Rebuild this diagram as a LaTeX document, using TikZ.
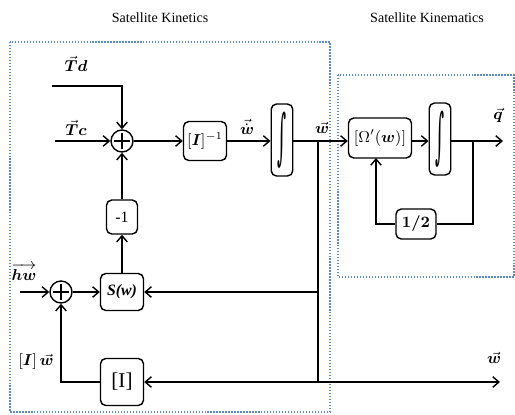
\documentclass[tikz,border=0pt]{standalone}
\usepackage{amsmath}
\usepackage{bm}
\usepackage{graphicx}
\usepackage{fontspec}
\setmainfont{Liberation Serif}
\newfontfamily\intfont{DejaVu Serif}
\usetikzlibrary{
	arrows.meta,
	calc,
	positioning
}
\definecolor{FrameBlue}{RGB}{90,140,200}

\begin{document}
\begin{tikzpicture}[x=0.02cm, y=-0.02cm, line width=0.8pt,
		>={Straight Barb[length=3.5pt,width=6pt]},
		blk/.style={draw, rounded corners=3pt, inner sep=1pt, font=\small},
		integ/.style={blk, minimum width=0.43cm, minimum height=1.44cm, inner sep=0pt},
		sumnode/.style={draw, circle, minimum size=0.44cm, inner sep=0pt,
			path picture={
				\draw ($(path picture bounding box.center)+(-0.16cm,0)$) -- ($(path picture bounding box.center)+(0.16cm,0)$);
				\draw ($(path picture bounding box.center)+(0,-0.16cm)$) -- ($(path picture bounding box.center)+(0,0.16cm)$);
			}},
		frame/.style={draw=FrameBlue, densely dotted, line width=0.7pt},
		lbl/.style={font=\small}]
		\useasboundingbox (0,0) rectangle (515,414);
		
		% frames
		\draw[frame] (10,42) rectangle (330,412);
		\draw[frame] (338,75) rectangle (514,277);
		\node[font=\fontsize{8}{9}\selectfont] at (160,18) {Satellite Kinetics};
		\node[font=\fontsize{8}{9}\selectfont] at (427,18) {Satellite Kinematics};
		
		% kinetics
		\node[sumnode] (sumA) at (122,141) {};
		\node[blk, minimum width=0.86cm, minimum height=0.78cm] (inv) at (205,141) {$[\bm{I}]^{-1}$};
		\node[integ] (intA) at (282,140) {\scalebox{1.1}[3.8]{\intfont ∫}};
		\node[blk, minimum width=0.62cm, minimum height=0.68cm] (neg) at (122,217) {-1};
		\node[blk, minimum width=0.86cm, minimum height=0.74cm] (sw) at (122,292) {\textbf{\textit{S(w)}}};
		\node[sumnode] (sumB) at (61,292) {};
		\node[blk, minimum width=0.86cm, minimum height=0.94cm, font=\large] (iblk) at (122,382) {[I]};
		
		% kinematics
		\node[blk, minimum width=1.26cm, minimum height=0.8cm] (omega) at (380,138) {$[\Omega'(\bm{w})]$};
		\node[integ] (intB) at (440,139) {\scalebox{1.1}[3.8]{\intfont ∫}};
		\node[blk, minimum width=0.8cm, minimum height=0.6cm] (half) at (416,224) {$\bm{1/2}$};
		
		\coordinate (tdin) at (52,86);
		\coordinate (tcin) at (55,141);
		\coordinate (hwin) at (20,292);
		\coordinate (wbr) at (318,141);
		\coordinate (wbot) at (318,382);
		\coordinate (qbr) at (473,141);
		\coordinate (qout) at (503,141);
		\coordinate (wout) at (500,382);
		\coordinate (ombot) at (376,158);
		
		\draw[->] (tdin) -| (sumA.north);
		\draw[->] (tcin) -- (sumA.west);
		\draw[->] (sumA) -- (inv);
		\draw[->] (inv) -- (inv -| intA.west);
		\draw (intA.east |- wbr) -- (wbr);
		\draw[->] (wbr) -- (omega.west |- wbr);
		\draw[->] (omega.east |- wbr) -- (intB.west |- wbr);
		\draw[->] (intB.east |- qbr) -- (qout);
		\draw (qbr) |- (half.east);
		\draw[->] (half.west) -| (ombot);
		\draw (wbr) -- (wbot);
		\draw[->] (sw.east -| wbr) -- (sw.east);
		\draw[->] (wbot) -- (iblk.east);
		\draw[->] (wbot) -- (wout);
		\draw[->] (iblk.west) -| (sumB.south);
		\draw[->] (hwin) -- (sumB.west);
		\draw[->] (sumB) -- (sw);
		\draw[->] (sw) -- (neg);
		\draw[->] (neg) -- (sumA);
		
		% labels
		\node[lbl] at (76,64) {$\vec{\bm{T}}\bm{d}$};
		\node[lbl] at (76,128) {$\vec{\bm{T}}\bm{c}$};
		\node[lbl] at (247,127) {$\vec{\dot{\bm{w}}}$};
		\node[lbl] at (322,128) {$\vec{\bm{w}}$};
		\node[lbl] at (498,115) {$\vec{\bm{q}}$};
		\node[lbl] at (24,272) {$\overrightarrow{\bm{hw}}$};
		\node[lbl] at (36,362) {$[\bm{I}]\,\vec{\bm{w}}$};
		\node[lbl] at (494,358) {$\vec{\bm{w}}$};
	\end{tikzpicture}
\end{document}
